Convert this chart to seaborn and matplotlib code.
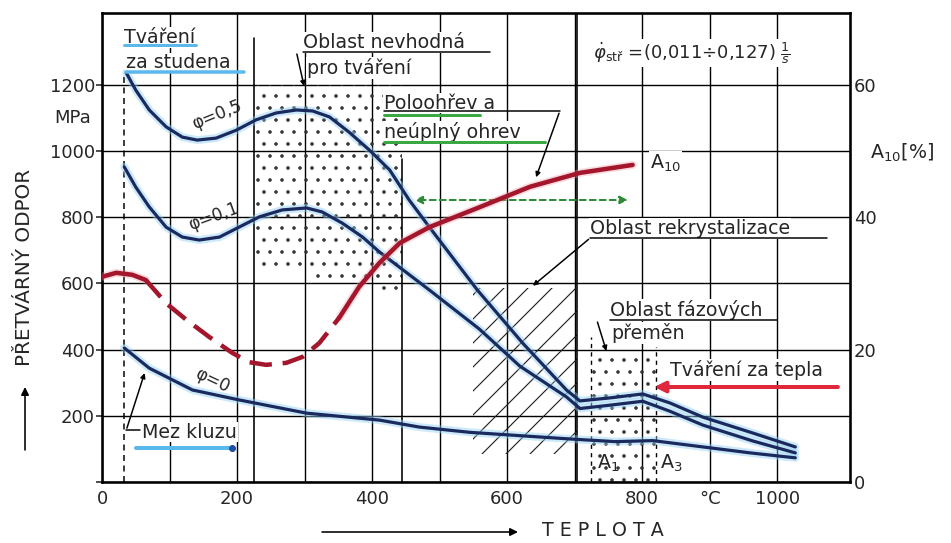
import matplotlib
matplotlib.use("Agg")
import matplotlib.pyplot as plt
import seaborn as sns

# --- values ---
# deformation resistance [MPa] vs temperature [deg C]
temp_phi05 = [36, 50, 70, 95, 119, 141, 169, 199, 228, 258, 288, 312, 337, 366, 396, 426, 455, 485,
              556, 623, 688, 708, 752, 801, 841, 890, 964, 1027]
sig_phi05 = [1236, 1184, 1124, 1073, 1042, 1033, 1039, 1063, 1094, 1115, 1124, 1121, 1103, 1057, 1003,
             943, 852, 770, 580, 420, 278, 245, 254, 266, 239, 196, 148, 106]

temp_phi01 = [33, 50, 70, 95, 119, 144, 174, 203, 233, 267, 303, 326, 356, 386, 411, 485, 559, 619,
              688, 708, 752, 801, 841, 890, 964, 1027]
sig_phi01 = [952, 891, 831, 770, 740, 731, 740, 770, 801, 822, 828, 816, 782, 740, 695, 580, 462, 350,
             257, 222, 232, 244, 214, 172, 124, 88]

temp_phi0 = [33, 70, 134, 203, 303, 411, 470, 545, 693, 760, 816, 890, 960, 1027]
sig_phi0 = [405, 344, 278, 248, 208, 187, 166, 150, 130, 122, 125, 106, 88, 73]

# elongation A10 [%] (right axis)
temp_a10 = [0, 21, 45, 65, 95, 125, 159, 193, 218, 243, 273, 297, 322, 352, 381, 411, 441, 485,
            559, 634, 708, 786]
a10 = [31.0, 31.6, 31.3, 30.5, 27.0, 24.5, 21.9, 19.5, 18.1, 17.7, 18.0, 18.9, 21.0, 24.9, 29.5,
       33.1, 36.1, 38.5, 41.5, 44.6, 46.7, 47.9]

# shaded zones
unsuit_x = [225, 305, 305, 405, 405, 445]
unsuit_lo = [640, 640, 615, 615, 570, 570]
unsuit_hi = [1200, 1200, 1200, 1200, 1200, 1200]
recryst_x = [550, 703]
recryst_lo = [85, 85]
recryst_hi = [585, 585]
phase_x = [725, 820]
phase_lo = [0, 0]
phase_hi = [390, 390]

x_ticks = [0, 100, 200, 300, 400, 500, 600, 700, 800, 900, 1000]
x_labels = ['0', '', '200', '', '400', '', '600', '', '800', '°C', '1000']
y_ticks = [0, 200, 400, 600, 800, 1000, 1200]
y_labels = ['', '200', '400', '600', '800', '1000', '1200']
r_ticks = [0, 20, 40, 60]

sns.set_style("white")
plt.rcParams['font.family'] = ['DejaVu Sans']
plt.rcParams['mathtext.fontset'] = 'dejavusans'
plt.rcParams['hatch.linewidth'] = 1.15
plt.rcParams['lines.solid_joinstyle'] = 'round'
plt.rcParams['lines.solid_capstyle'] = 'round'

navy = '#1b2a5e'
glow = '#8fd0f2'
red = '#a3162b'
pink = '#f29aa8'

W, H = 951, 543
fig = plt.figure(figsize=(W / 72, H / 72), dpi=72)
ax = fig.add_axes([102 / W, 1 - 482 / H, 748 / W, 469 / H])
ax.set_xlim(0, 1108)
ax.set_ylim(0, 1417)

ax.set_xticks(x_ticks)
ax.set_xticklabels(x_labels, fontsize=18)
ax.set_yticks(y_ticks)
ax.set_yticklabels(y_labels, fontsize=18)
ax.grid(True, color='black', lw=1.4)
ax.set_axisbelow(True)
ax.tick_params(axis='y', direction='out', length=6, width=1.6, left=True, pad=1)
ax.tick_params(axis='x', length=0, pad=8)
for s in ax.spines.values():
    s.set_linewidth(2.6)
    s.set_color('black')

# shaded zones
ax.fill_between(unsuit_x, unsuit_lo, unsuit_hi, facecolor='none', edgecolor='#333333',
                hatch='.', linewidth=0, zorder=1)
ax.fill_between(recryst_x, recryst_lo, recryst_hi, facecolor='none', edgecolor='#222222',
                hatch='/', linewidth=0, zorder=1)
ax.fill_between(phase_x, phase_lo, phase_hi, facecolor='none', edgecolor='#333333',
                hatch='.', linewidth=0, zorder=1)

# zone boundaries
ax.plot([33, 33], [0, 1230], color='black', lw=1.5, ls=(0, (4, 3)))
ax.plot([225, 225], [0, 1340], color='black', lw=1.6)
ax.plot([445, 445], [0, 975], color='black', lw=1.6)
ax.plot([703, 703], [0, 1417], color='black', lw=1.6)
ax.plot([725, 725], [0, 438], color='black', lw=1.4, ls=(0, (3, 3)))
ax.plot([820, 820], [0, 408], color='black', lw=1.4, ls=(0, (3, 3)))

# flow stress curves
for tx, sy in [(temp_phi05, sig_phi05), (temp_phi01, sig_phi01), (temp_phi0, sig_phi0)]:
    sns.lineplot(x=tx, y=sy, ax=ax, sort=False, estimator=None, color=glow, lw=8, alpha=0.45, zorder=4)
    sns.lineplot(x=tx, y=sy, ax=ax, sort=False, estimator=None, color=navy, lw=3.2, zorder=5)

# right axis with A10
ax2 = ax.twinx()
ax2.set_ylim(0, 1417 / 20)
ax2.set_yticks(r_ticks)
ax2.set_yticklabels([str(v) for v in r_ticks], fontsize=18)
ax2.tick_params(axis='y', length=0, pad=4)
ax2.grid(False)
for s in ax2.spines.values():
    s.set_visible(False)

# solid ends, dashed middle part
sns.lineplot(x=temp_a10[:4], y=a10[:4], ax=ax2, sort=False, estimator=None, color=pink, lw=8, alpha=0.35)
sns.lineplot(x=temp_a10[13:], y=a10[13:], ax=ax2, sort=False, estimator=None, color=pink, lw=8, alpha=0.35)
sns.lineplot(x=temp_a10[:4], y=a10[:4], ax=ax2, sort=False, estimator=None, color=red, lw=4.5)
sns.lineplot(x=temp_a10[3:14], y=a10[3:14], ax=ax2, sort=False, estimator=None, color=red, lw=4.5,
             linestyle=(0, (5, 2.4)))
sns.lineplot(x=temp_a10[13:], y=a10[13:], ax=ax2, sort=False, estimator=None, color=red, lw=4.5)

# --- annotations ---
fs = 19
wb = dict(facecolor='white', edgecolor='none', pad=1)
ax.text(33, 1344, 'Tváření', fontsize=fs, va='center', bbox=wb, zorder=6)
ax.text(36, 1266, 'za studena', fontsize=fs, va='center', bbox=wb, zorder=6)
ax.plot([33, 139], [1320, 1320], color='#5ab8ec', lw=3, zorder=7)
ax.plot([36, 211], [1239, 1239], color='#5ab8ec', lw=3.5, zorder=7)

ax.text(297, 1329, 'Oblast nevhodná', fontsize=fs, va='center', bbox=wb, zorder=6)
ax.text(303, 1251, 'pro tváření', fontsize=fs, va='center', bbox=wb, zorder=6)
ax.plot([297, 574], [1299, 1299], color='black', lw=1.5, zorder=7)
ax.annotate('', xy=(300, 1190), xytext=(288, 1299),
            arrowprops=dict(arrowstyle='-|>', color='black', lw=1.5, mutation_scale=10), zorder=7)

ax.text(727, 1296, r'$\dot{\varphi}_{\mathrm{stř}}$ =(0,011÷0,127) $\frac{1}{s}$', fontsize=18,
        va='center', bbox=wb, zorder=6)

ax.text(418, 1145, 'Poloohřev a', fontsize=fs, va='center', bbox=wb, zorder=6)
ax.text(418, 1057, 'neúplný ohrev', fontsize=fs, va='center', bbox=wb, zorder=6)
ax.plot([418, 678], [1120, 1120], color='black', lw=1.5, zorder=7)
ax.plot([418, 560], [1110, 1110], color='#3aa845', lw=3, zorder=7)
ax.plot([418, 656], [1027, 1027], color='#3aa845', lw=3, zorder=7)
ax.annotate('', xy=(642, 915), xytext=(678, 1120),
            arrowprops=dict(arrowstyle='-|>', color='black', lw=1.5, mutation_scale=10), zorder=7)
ax.annotate('', xy=(460, 852), xytext=(782, 852),
            arrowprops=dict(arrowstyle='<|-|>', color='#2e8b3a', lw=2, ls=(0, (3, 2)),
                            mutation_scale=16), zorder=7)

ax.text(812, 964, r'A$_{10}$', fontsize=fs, va='center', bbox=wb, zorder=6)

ax.text(723, 767, 'Oblast rekrystalizace', fontsize=fs, va='center', bbox=wb, zorder=6)
ax.plot([723, 1074], [737, 737], color='black', lw=1.5, zorder=7)
ax.annotate('', xy=(636, 589), xytext=(723, 737),
            arrowprops=dict(arrowstyle='-|>', color='black', lw=1.5, mutation_scale=10), zorder=7)

ax.text(752, 520, 'Oblast fázových', fontsize=fs, va='center', bbox=wb, zorder=6)
ax.text(755, 450, 'přeměn', fontsize=fs, va='center', bbox=wb, zorder=6)
ax.plot([752, 1000], [489, 489], color='black', lw=1.5, zorder=7)
ax.annotate('', xy=(748, 390), xytext=(733, 489),
            arrowprops=dict(arrowstyle='-|>', color='black', lw=1.5, mutation_scale=10), zorder=7)

ax.text(841, 338, 'Tváření za tepla', fontsize=fs, va='center', bbox=wb, zorder=6)
ax.annotate('', xy=(815, 287), xytext=(1093, 287),
            arrowprops=dict(arrowstyle='-|>', color='#e0283c', lw=4, mutation_scale=22), zorder=7)

ax.text(733, 57, r'A$_1$', fontsize=fs, va='center', zorder=6)
ax.text(826, 57, r'A$_3$', fontsize=fs, va='center', zorder=6)

ax.text(171, 1109, 'φ=0,5', fontsize=17, ha='center', va='center', rotation=22, zorder=6)
ax.text(166, 801, 'φ=0,1', fontsize=17, ha='center', va='center', rotation=20, zorder=6)
ax.text(163, 308, 'φ=0', fontsize=17, ha='center', va='center', rotation=-25, zorder=6)

ax.text(59, 151, 'Mez kluzu', fontsize=fs, va='center', bbox=wb, zorder=6)
ax.plot([50, 193], [103, 103], color='#5ab8ec', lw=4, zorder=7)
ax.plot([193], [103], marker='o', color='#1f4fa0', ms=6, zorder=7)
ax.plot([57, 36], [157, 157], color='black', lw=1.5, zorder=7)
ax.annotate('', xy=(64, 335), xytext=(36, 157),
            arrowprops=dict(arrowstyle='-|>', color='black', lw=1.5, mutation_scale=10), zorder=7)

ax.text(-0.015, 1100, 'MPa', fontsize=18, ha='right', va='center',
        transform=ax.get_yaxis_transform())

# axis titles with arrows
fig.text(25 / W, 1 - 267 / H, 'PŘETVÁRNÝ ODPOR', rotation=90, fontsize=20, ha='center', va='center')
fig.patches.append(matplotlib.patches.FancyArrowPatch(
    (25 / W, 1 - 452 / H), (25 / W, 1 - 385 / H), transform=fig.transFigure,
    arrowstyle='-|>', mutation_scale=16, color='black', lw=1.6))
fig.text(603 / W, 1 - 530 / H, 'T E P L O T A', fontsize=19, ha='center', va='center')
fig.patches.append(matplotlib.patches.FancyArrowPatch(
    (320 / W, 1 - 532 / H), (520 / W, 1 - 532 / H), transform=fig.transFigure,
    arrowstyle='-|>', mutation_scale=16, color='black', lw=1.6))
fig.text(870 / W, 1 - 153 / H, r'A$_{10}$[%]', fontsize=19, ha='left', va='center')

fig.savefig('out.png', dpi=72, facecolor='white')
